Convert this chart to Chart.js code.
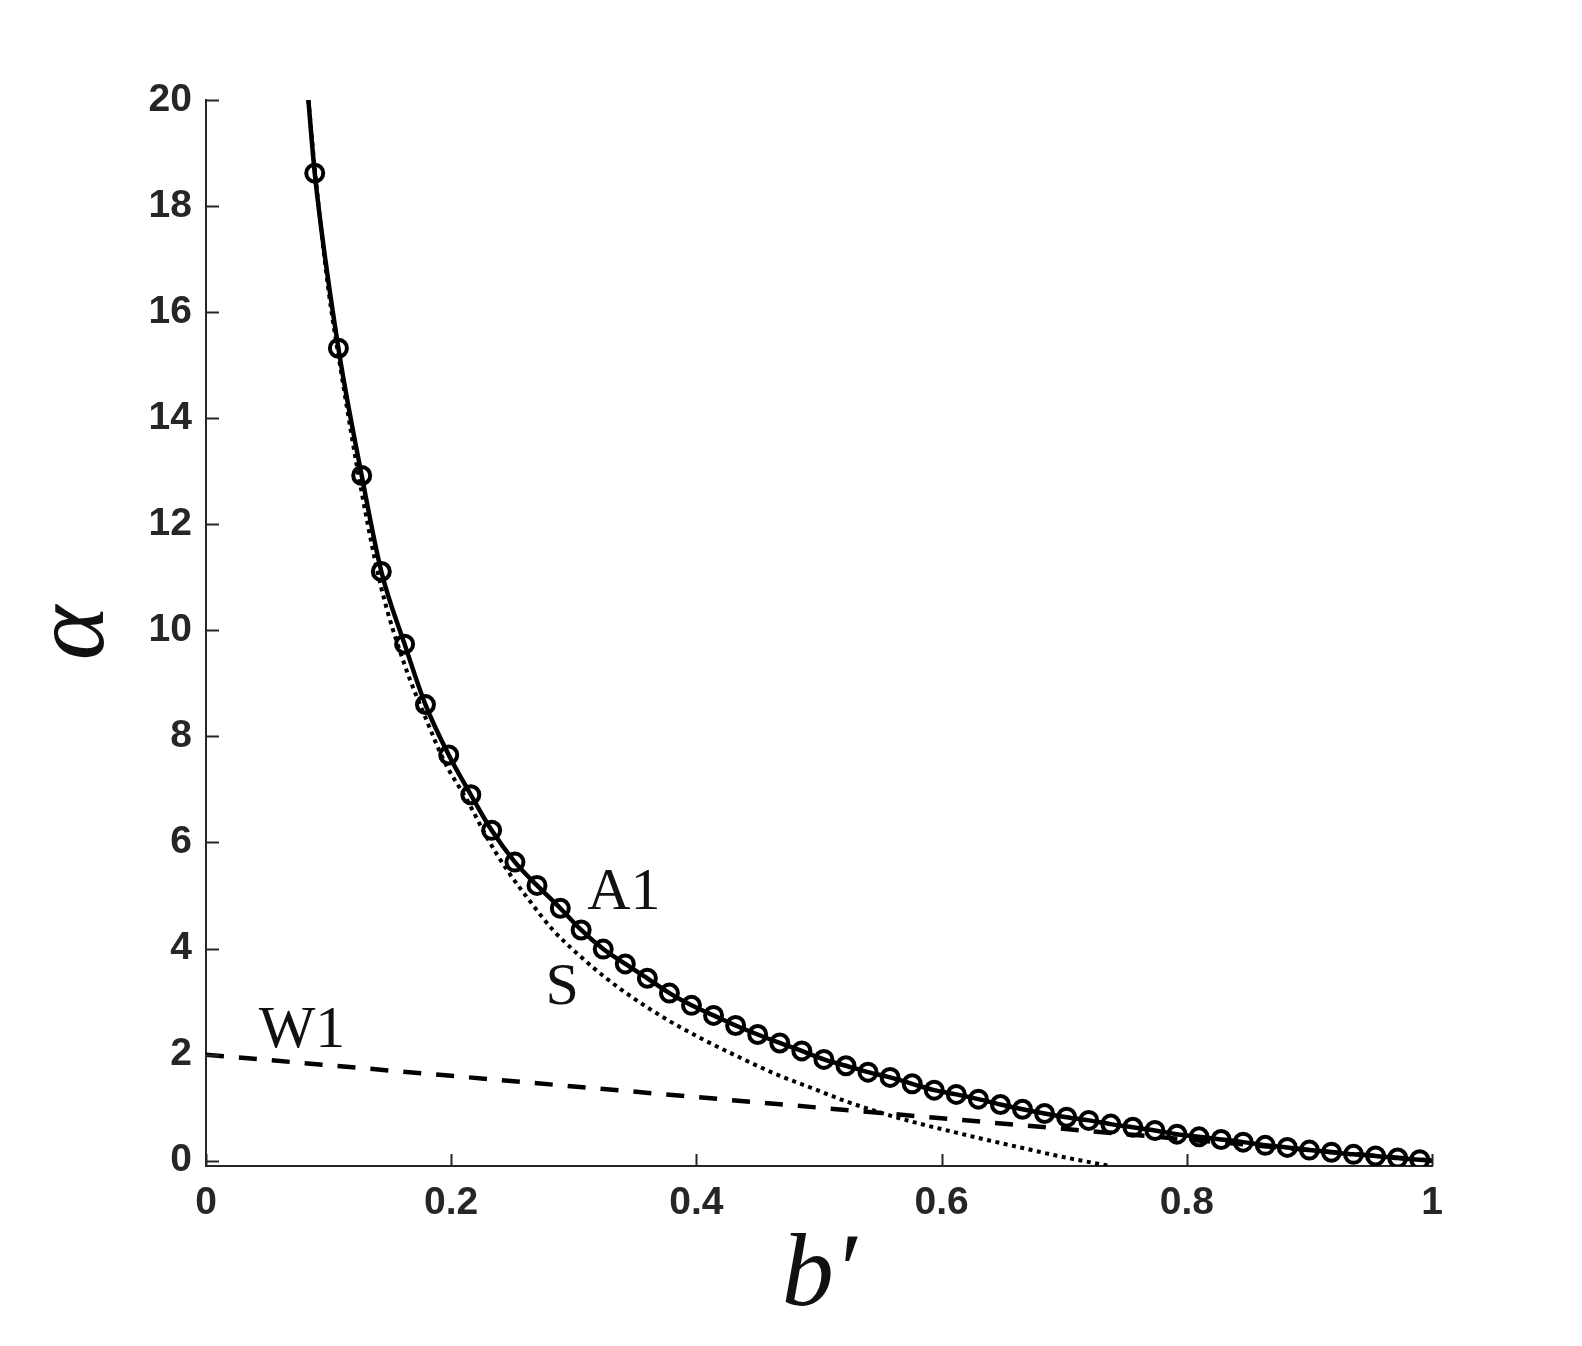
<!DOCTYPE html>
<html>
<head>
<meta charset="utf-8">
<script src="https://cdn.jsdelivr.net/npm/chart.js@4.4.1/dist/chart.umd.min.js"></script>
<style>
  html, body { margin: 0; padding: 0; background: #fff; }
  #wrap { width: 1582px; height: 1346px; }
</style>
</head>
<body>
<div id="wrap"><canvas id="alphaChart" width="1582" height="1346"></canvas></div>
<script>
// ─── Data ────────────────────────────────────────────────────────────────────

// A1: solid curve; first and last entries are the curve ends, the rest carry circles
const a1X = [0.0835, 0.0887, 0.108, 0.127, 0.143, 0.162, 0.179, 0.198, 0.216, 0.233,
             0.252, 0.270, 0.289, 0.306, 0.324, 0.342, 0.360, 0.378, 0.396, 0.414,
             0.432, 0.450, 0.468, 0.486, 0.504, 0.522, 0.540, 0.558, 0.576, 0.594,
             0.612, 0.630, 0.648, 0.666, 0.684, 0.702, 0.720, 0.738, 0.756, 0.774,
             0.792, 0.810, 0.828, 0.846, 0.864, 0.882, 0.900, 0.918, 0.936, 0.954,
             0.972, 0.990, 1.0];
const a1Y = [20, 18.62, 15.32, 12.92, 11.11, 9.74, 8.60, 7.65, 6.90, 6.23,
             5.63, 5.19, 4.76, 4.35, 3.99, 3.71, 3.44, 3.16, 2.93, 2.74,
             2.55, 2.38, 2.22, 2.07, 1.91, 1.79, 1.67, 1.57, 1.45, 1.33,
             1.25, 1.16, 1.06, 0.97, 0.89, 0.82, 0.76, 0.69, 0.63, 0.57,
             0.50, 0.45, 0.40, 0.35, 0.29, 0.25, 0.20, 0.16, 0.12, 0.09,
             0.05, 0.02, 0];

// S: dotted curve
const sX = [0.0835, 0.09, 0.10, 0.11, 0.127, 0.143, 0.162, 0.180, 0.195, 0.213,
            0.229, 0.245, 0.264, 0.283, 0.305, 0.327, 0.349, 0.376, 0.406, 0.435,
            0.464, 0.493, 0.522, 0.551, 0.580, 0.610, 0.639, 0.668, 0.697, 0.737];
const sY = [20, 18.4, 16.4, 14.9, 12.6, 10.8, 9.35, 8.3, 7.5, 6.8,
            6.1, 5.5, 4.9, 4.35, 3.86, 3.43, 3.06, 2.66, 2.28, 1.95,
            1.64, 1.38, 1.12, 0.90, 0.71, 0.54, 0.38, 0.23, 0.08, -0.1];

// W1: dashed line
const w1X = [0, 1];
const w1Y = [2, 0];

// Axis ticks
const xTicks = [0, 0.2, 0.4, 0.6, 0.8, 1];
const xTickLabels = ['0', '0.2', '0.4', '0.6', '0.8', '1'];
const yTicks = [0, 2, 4, 6, 8, 10, 12, 14, 16, 18, 20];

// Curve names and where they sit (data coordinates, left / baseline)
const curveNames = ['A1', 'S', 'W1'];
const nameX = [0.311, 0.277, 0.043];
const nameY = [4.75, 2.96, 2.14];

const AXIS_COLOR = '#262626';
const zip = (xs, ys) => xs.map((x, i) => ({ x, y: ys[i] }));

// ─── Inward ticks + curve names ─────────────────────────────────────────────
const figureExtras = {
  id: 'figureExtras',
  afterDraw(chart) {
    const { ctx, chartArea: area, scales: { x, y } } = chart;
    ctx.save();
    ctx.strokeStyle = AXIS_COLOR;
    ctx.lineWidth = 2;
    ctx.beginPath();
    xTicks.forEach(v => {
      const px = Math.round(x.getPixelForValue(v)) + 0.5;
      ctx.moveTo(px, area.bottom);
      ctx.lineTo(px, area.bottom - 12);
    });
    yTicks.forEach(v => {
      const py = Math.round(y.getPixelForValue(v)) + 0.5;
      ctx.moveTo(area.left, py);
      ctx.lineTo(area.left + 13, py);
    });
    ctx.stroke();

    ctx.fillStyle = '#111';
    ctx.font = '60px "Liberation Serif", "DejaVu Serif", serif';
    ctx.textAlign = 'left';
    ctx.textBaseline = 'alphabetic';
    curveNames.forEach((name, i) => {
      ctx.fillText(name, x.getPixelForValue(nameX[i]), y.getPixelForValue(nameY[i]));
    });
    ctx.restore();
  },
};

const tickFont = { family: '"Liberation Sans", Arial, sans-serif', size: 39, weight: 'bold' };
const titleFont = { family: '"Liberation Serif", "DejaVu Serif", serif', size: 104, style: 'italic', lineHeight: 1 };

new Chart(document.getElementById('alphaChart'), {
  type: 'line',
  data: {
    datasets: [
      {
        label: 'A1',
        data: zip(a1X, a1Y),
        borderColor: '#000',
        borderWidth: 4.5,
        cubicInterpolationMode: 'monotone',
        pointRadius: c => (c.dataIndex === 0 || c.dataIndex === a1X.length - 1) ? 0 : 8.5,
        pointBorderWidth: 4,
        pointBorderColor: '#000',
        pointBackgroundColor: 'rgba(0,0,0,0)',
        fill: false,
      },
      {
        label: 'S',
        data: zip(sX, sY),
        borderColor: '#000',
        borderWidth: 4,
        borderDash: [4, 4.5],
        borderCapStyle: 'butt',
        cubicInterpolationMode: 'monotone',
        pointRadius: 0,
        fill: false,
      },
      {
        label: 'W1',
        data: zip(w1X, w1Y),
        borderColor: '#000',
        borderWidth: 4.5,
        borderDash: [18, 15],
        pointRadius: 0,
        fill: false,
      },
    ],
  },
  options: {
    responsive: false,
    animation: false,
    devicePixelRatio: 1,
    layout: { padding: { left: 0, right: 150, top: 100, bottom: 0 } },
    plugins: {
      legend: { display: false },
      tooltip: { enabled: false },
    },
    scales: {
      x: {
        type: 'linear',
        min: 0,
        max: 1,
        afterFit: s => { s.height = 180; },
        afterBuildTicks: s => { s.ticks = xTicks.map(v => ({ value: v })); },
        grid: { display: false, drawTicks: false },
        border: { display: true, color: AXIS_COLOR, width: 2 },
        ticks: {
          padding: 14,
          color: AXIS_COLOR,
          font: tickFont,
          maxRotation: 0,
          callback: (v) => xTickLabels[xTicks.indexOf(v)] ?? String(v),
        },
        title: { display: true, text: 'b\u2032', color: '#111', font: titleFont, padding: { top: 0, bottom: 16 } },
      },
      y: {
        type: 'linear',
        min: -0.1,
        max: 20,
        afterFit: s => { s.width = 206; },
        afterBuildTicks: s => { s.ticks = yTicks.map(v => ({ value: v })); },
        grid: { display: false, drawTicks: false },
        border: { display: true, color: AXIS_COLOR, width: 2 },
        ticks: {
          padding: 14,
          color: AXIS_COLOR,
          font: tickFont,
        },
        title: { display: true, text: '\u03b1', color: '#111', font: titleFont, padding: { top: 24, bottom: 0 } },
      },
    },
  },
  plugins: [figureExtras],
});
</script>
</body>
</html>
